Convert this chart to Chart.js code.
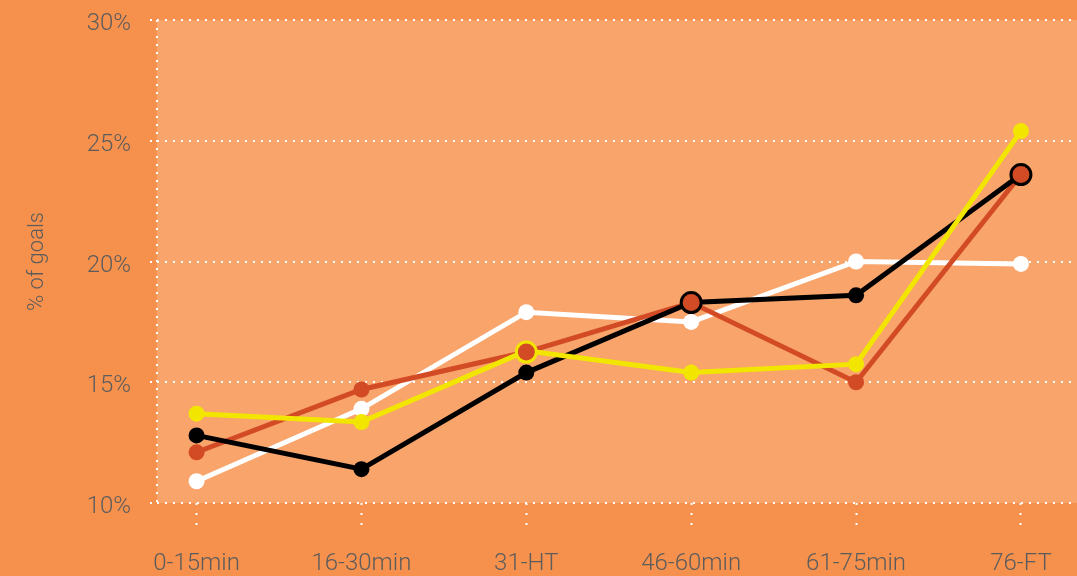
<!DOCTYPE html>
<html>
<head>
<meta charset="utf-8">
<script src="https://cdn.jsdelivr.net/npm/chart.js@4"></script>
<style>
  html, body { margin: 0; padding: 0; background: #F6914D; }
  #wrap { width: 1077px; height: 576px; }
</style>
</head>
<body>
<div id="wrap"><canvas id="goalsChart" width="1077" height="576"></canvas></div>
<script>
// time bands
const periods = ['0-15min', '16-30min', '31-HT', '46-60min', '61-75min', '76-FT'];

// % of goals per band
const whiteVals = [10.9, 13.9, 17.9, 17.5, 20.0, 19.9];
const redVals = [12.1, 14.7, 16.25, 18.3, 15.0, 23.6];
const blackVals = [12.8, 11.4, 15.4, 18.3, 18.6, 23.6];
const yellowVals = [13.7, 13.35, 16.3, 15.4, 15.75, 25.4];

// red points that are drawn bigger, with a ring
const highlightIdx = [2, 3, 5];
const highlightRing = ['#F2E600', '#000000', '#000000'];

const yTicks = [10, 15, 20, 25, 30];

const outerBg = '#F6914D';
const innerBg = '#F8A46B';
const textGrey = '#5c5c5c';

const toPoints = (vals) => vals.map((v, i) => ({ x: i, y: v }));

const lineSet = (label, vals, color, order) => ({
  label: label,
  data: toPoints(vals),
  borderColor: color,
  backgroundColor: color,
  pointBackgroundColor: color,
  pointBorderColor: color,
  borderWidth: 5,
  pointRadius: 8,
  pointBorderWidth: 0,
  pointHoverRadius: 8,
  tension: 0,
  fill: false,
  clip: false,
  order: order
});

// background + dotted left axis
const backdrop = {
  id: 'backdrop',
  beforeDraw(chart) {
    const { ctx, chartArea: a } = chart;
    ctx.save();
    ctx.fillStyle = outerBg;
    ctx.fillRect(0, 0, chart.width, chart.height);
    ctx.fillStyle = innerBg;
    ctx.fillRect(a.left, a.top, a.right - a.left, a.bottom - a.top);
    ctx.restore();
  },
  beforeDatasetsDraw(chart) {
    const { ctx, chartArea: a } = chart;
    ctx.save();
    ctx.strokeStyle = '#ffffff';
    ctx.lineWidth = 2;
    ctx.setLineDash([2, 6]);
    ctx.beginPath();
    ctx.moveTo(a.left, a.top);
    ctx.lineTo(a.left, a.bottom);
    ctx.stroke();
    ctx.restore();
  }
};

const ctx = document.getElementById('goalsChart').getContext('2d');
const goalsChart = new Chart(ctx, {
  type: 'line',
  data: {
    datasets: [
      lineSet('white', whiteVals, '#FFFFFF', 4),
      lineSet('red', redVals, '#D24B24', 3),
      lineSet('black', blackVals, '#000000', 2),
      lineSet('yellow', yellowVals, '#F2E600', 1),
      {
        label: 'highlight',
        data: highlightIdx.map(i => ({ x: i, y: redVals[i] })),
        showLine: false,
        pointRadius: 10,
        pointHoverRadius: 10,
        pointBorderWidth: 3,
        pointBackgroundColor: '#D24B24',
        pointBorderColor: highlightRing,
        clip: false,
        order: 0
      }
    ]
  },
  options: {
    responsive: false,
    animation: false,
    layout: { autoPadding: false, padding: { top: 20, right: 0, bottom: 0, left: 0 } },
    plugins: {
      legend: { display: false },
      tooltip: { enabled: false }
    },
    scales: {
      x: {
        type: 'linear',
        min: -0.24,
        max: 5.34,
        afterFit: (s) => { s.height = 73; s.paddingLeft = 0; s.paddingRight = 0; },
        border: { display: false },
        grid: {
          drawOnChartArea: false,
          drawTicks: true,
          tickLength: 24,
          tickColor: '#ffffff',
          tickWidth: 2,
          tickBorderDash: [2, 8]
        },
        ticks: {
          stepSize: 1,
          includeBounds: false,
          autoSkip: false,
          maxRotation: 0,
          padding: 23,
          color: textGrey,
          font: { family: 'Roboto', size: 24, weight: '300' },
          callback: (v) => Number.isInteger(v) ? (periods[v] || '') : ''
        }
      },
      y: {
        min: 10,
        max: 30,
        afterFit: (s) => { s.width = 157; s.paddingTop = 0; s.paddingBottom = 0; },
        afterBuildTicks: (s) => { s.ticks = yTicks.map(v => ({ value: v })); },
        border: { display: false, dash: [2, 6] },
        grid: {
          color: '#ffffff',
          lineWidth: 2,
          drawTicks: true,
          tickLength: 7,
          tickColor: '#ffffff',
          tickWidth: 2,
          tickBorderDash: [2, 6]
        },
        title: {
          display: true,
          text: '% of goals',
          color: textGrey,
          padding: { top: 24, bottom: 0 },
          font: { family: 'Roboto', size: 22, weight: '300' }
        },
        ticks: {
          padding: 19,
          labelOffset: 4,
          color: textGrey,
          font: { family: 'Roboto', size: 24, weight: '300' },
          callback: (v) => v + '%'
        }
      }
    }
  },
  plugins: [backdrop]
});
</script>
</body>
</html>
